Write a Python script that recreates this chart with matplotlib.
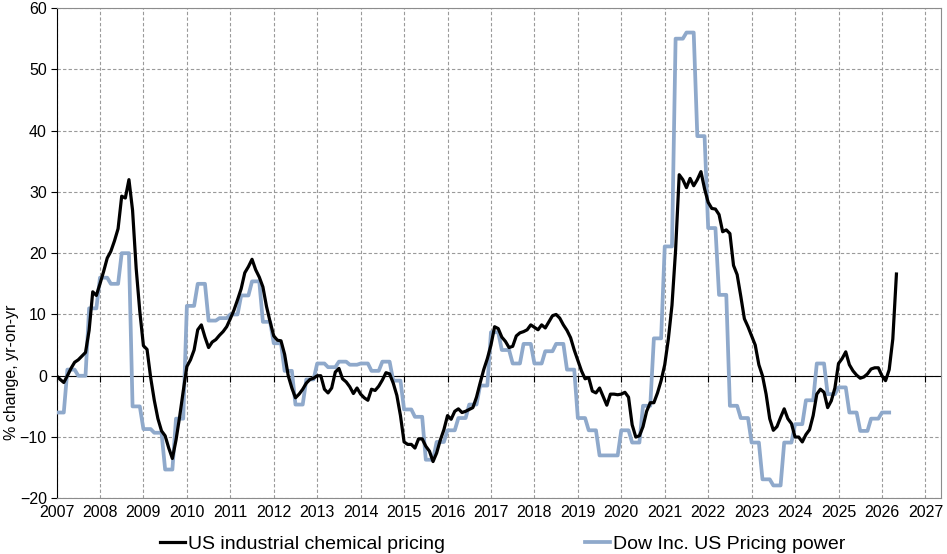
import numpy as np
import matplotlib
matplotlib.use("Agg")
import matplotlib.pyplot as plt

plt.rcParams['font.family'] = ['Liberation Sans Narrow', 'Liberation Sans', 'DejaVu Sans']

# monthly, Jan 2007 onwards
chem_pricing = [
    0.0, -0.6, -1.1, 0.0, 1.2, 2.2, 2.6, 3.2, 3.8, 7.4,
    13.7, 13.1, 15.0, 17.0, 19.2, 20.3, 22.0, 24.0, 29.3, 29.0,
    32.0, 27.0, 17.5, 10.5, 4.9, 4.3, -0.3, -4.0, -7.0, -9.0,
    -9.8, -11.8, -13.5, -10.5, -6.7, -2.5, 1.5, 2.6, 4.2, 7.5,
    8.3, 6.3, 4.6, 5.5, 5.9, 6.6, 7.2, 8.0, 9.3, 10.7,
    12.4, 14.2, 16.8, 17.8, 19.0, 17.3, 16.1, 14.5, 11.3, 8.8,
    6.5, 5.8, 5.7, 3.5, 0.0, -2.0, -3.6, -3.0, -2.2, -1.2,
    -0.6, -0.4, 0.0, 0.0, -2.2, -2.8, -2.0, 0.6, 1.2, -0.5,
    -1.0, -1.8, -2.9, -2.0, -3.0, -3.6, -4.0, -2.2, -2.4, -1.7,
    -0.7, 0.5, 0.3, -1.2, -3.2, -6.5, -10.8, -11.2, -11.2, -11.8,
    -10.3, -10.3, -11.5, -12.3, -14.0, -12.6, -10.5, -8.8, -6.5, -7.1,
    -5.8, -5.4, -6.0, -5.8, -5.5, -5.2, -3.5, -1.2, 1.0, 2.8,
    5.0, 8.0, 7.7, 6.3, 5.6, 4.6, 4.8, 6.5, 7.0, 7.2,
    7.5, 8.3, 7.9, 7.5, 8.3, 7.8, 8.8, 9.8, 10.0, 9.4,
    8.3, 7.4, 6.2, 4.2, 2.5, 0.8, -0.5, -0.3, -2.5, -2.8,
    -2.0, -3.4, -4.8, -3.0, -3.0, -3.1, -3.0, -2.7, -3.5, -8.0,
    -10.0, -9.8, -8.3, -5.8, -4.4, -4.4, -2.8, -0.8, 1.8, 6.0,
    11.5, 20.5, 32.8, 32.0, 30.7, 32.2, 31.0, 32.0, 33.3, 30.5,
    28.3, 27.3, 27.2, 26.3, 23.5, 23.8, 23.2, 18.0, 16.5, 13.0,
    9.3, 8.0, 6.5, 5.0, 1.8, 0.0, -3.0, -7.0, -8.9, -8.3,
    -6.8, -5.4, -7.0, -7.8, -10.0, -10.0, -10.8, -9.6, -8.8, -6.5,
    -3.0, -2.2, -2.7, -5.2, -4.1, -2.0, 2.0, 2.8, 3.9, 1.8,
    0.8, 0.1, -0.4, -0.2, 0.3, 1.1, 1.3, 1.3, 0.0, -0.8,
    1.0, 6.0, 16.6,
]

# quarterly, Q1 2007 onwards (shown as monthly steps)
dow_pricing_q = [
    -6.0, 1.0, 0.0, 11.0,
    16.0, 15.0, 20.0, -5.0,
    -8.7, -9.3, -15.3, -7.0,
    11.4, 15.0, 9.0, 9.4,
    10.0, 13.1, 15.4, 8.8,
    5.3, 0.8, -4.7, -0.6,
    2.0, 1.4, 2.3, 1.8,
    2.0, 0.8, 2.3, -0.8,
    -5.5, -6.7, -13.7, -10.8,
    -8.9, -6.9, -4.7, -1.6,
    7.1, 4.2, 2.0, 5.2,
    2.0, 4.0, 5.2, 1.0,
    -6.9, -8.9, -13.0, -13.0,
    -8.9, -10.9, -4.9, 6.1,
    21.1, 55.0, 56.0, 39.1,
    24.1, 13.2, -4.9, -6.9,
    -10.9, -16.9, -17.9, -10.9,
    -7.9, -4.0, 2.0, -3.0,
    -1.9, -6.0, -9.0, -7.0,
    -6.0,
]

years = list(range(2007, 2028))
dow_monthly = np.repeat(dow_pricing_q, 3)
x_chem = 2007 + np.arange(len(chem_pricing)) / 12
x_dow = 2007 + np.arange(len(dow_monthly)) / 12

fig = plt.figure(figsize=(9.47, 5.54), dpi=100)
ax = fig.add_axes([0.0597, 0.1005, 0.934, 0.885])

ax.plot(x_dow, dow_monthly, color='#8FA9CB', lw=2.7, label='Dow Inc. US Pricing power', zorder=3)
ax.plot(x_chem, chem_pricing, color='black', lw=2.3, label='US industrial chemical pricing', zorder=4)

ax.set_xlim(2007, 2027.36)
ax.set_ylim(-20, 60)
ax.set_xticks(years)
ax.set_yticks(range(-20, 61, 10))
ax.grid(True, color='#9a9a9a', linestyle=(0, (3, 2)), lw=0.8)
ax.set_axisbelow(True)

for s in ['top', 'right', 'bottom']:
    ax.spines[s].set_color('#8c8c8c')
ax.spines['left'].set_color('black')
ax.tick_params(axis='x', length=0, pad=5, labelsize=11.5)
ax.tick_params(axis='y', direction='out', length=4, labelsize=11.5, pad=3)
ax.set_ylabel('% change, yr-on-yr', fontsize=11.5)
ax.yaxis.set_label_coords(-0.042, 0.258)

# horizontal axis line through zero with year ticks
sec = ax.secondary_xaxis(0.25)
sec.set_xticks(years)
sec.tick_params(axis='x', direction='out', length=4, labelbottom=False, color='black')
sec.spines['bottom'].set_color('black')
sec.set_zorder(1.5)

handles, labels = ax.get_legend_handles_labels()
fig.legend(handles[::-1], labels[::-1], loc='lower center', ncol=2, frameon=False,
           fontsize=14, handlelength=1.28, handletextpad=0.15, columnspacing=7.2,
           bbox_to_anchor=(0.5306, -0.03))

fig.savefig('out.png', dpi=100)
